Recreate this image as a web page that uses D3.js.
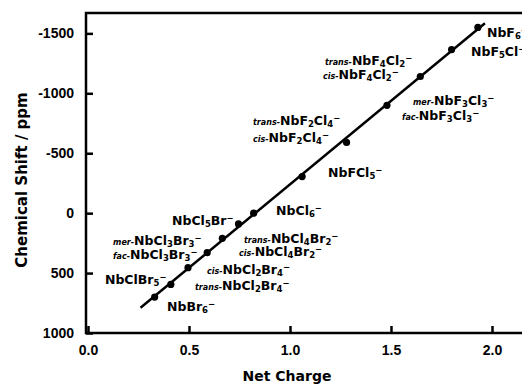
<!DOCTYPE html>
<html lang="en">
<head>
    <meta charset="UTF-8">
    <title>Chemical Shift vs Net Charge</title>
    <script src="https://d3js.org/d3.v7.min.js"></script>
    <style>
        body { margin: 0; background: #fff; }
        svg { display: block; }
        .tick text { font-family: "Liberation Sans", Arial, sans-serif; font-weight: bold; font-size: 14px; fill: #000; }
        .label { font-family: "DejaVu Sans", sans-serif; font-weight: bold; font-size: 12.5px; fill: #000; }
        .title { font-family: "DejaVu Sans", sans-serif; font-weight: bold; fill: #000; }
    </style>
</head>
<body>
<svg width="522" height="384"></svg>
<script>
    // measured points (net charge vs 93Nb shift)
    const netCharge = [0.33, 0.41, 0.495, 0.59, 0.665, 0.745, 0.82, 1.06, 1.28, 1.48, 1.645, 1.80, 1.93];
    const chemShift = [700, 595, 455, 330, 210, 90, 0, -305, -590, -900, -1140, -1365, -1550];

    // fitted line end points
    const fitX = [0.26, 1.965];
    const fitY = [790, -1585];

    const xTicks = [0, 0.5, 1.0, 1.5, 2.0];
    const yTicks = [-1500, -1000, -500, 0, 500, 1000];

    // species labels: [isomer prefix, formula], anchored at data coords
    const labelNames = [
        ["", "NbF6"], ["", "NbF5Cl"],
        ["trans", "NbF4Cl2"], ["cis", "NbF4Cl2"],
        ["mer", "NbF3Cl3"], ["fac", "NbF3Cl3"],
        ["trans", "NbF2Cl4"], ["cis", "NbF2Cl4"],
        ["", "NbFCl5"], ["", "NbCl6"], ["", "NbCl5Br"],
        ["mer", "NbCl3Br3"], ["fac", "NbCl3Br3"],
        ["trans", "NbCl4Br2"], ["cis", "NbCl4Br2"],
        ["cis", "NbCl2Br4"], ["trans", "NbCl2Br4"],
        ["", "NbClBr5"], ["", "NbBr6"]
    ];
    const labelX = [1.975, 1.896, 1.173, 1.163, 1.609, 1.554, 0.817, 0.817, 1.188, 0.931, 0.416, 0.124, 0.124, 0.772, 0.748, 0.589, 0.530, 0.084, 0.391];
    const labelY = [-1468, -1309, -1234, -1118, -900, -776, -734, -592, -300, 17, 100, 267, 384, 250, 359, 509, 642, 592, 817];

    const svg = d3.select("svg");

    const x = d3.scaleLinear().domain([0, 2]).range([88, 492]);
    const y = d3.scaleLinear().domain([1000, -1670]).range([333, 13]);

    const plotLeft = 86, plotTop = 13, plotBottom = 333;

    // axes with inward ticks
    const yAxis = d3.axisLeft(y)
        .tickValues(yTicks)
        .tickSizeInner(-7)
        .tickSizeOuter(0)
        .tickPadding(12)
        .tickFormat(d => d < 0 ? "-" + (-d) : String(d));

    const xAxis = d3.axisBottom(x)
        .tickValues(xTicks)
        .tickSizeInner(-7)
        .tickSizeOuter(0)
        .tickPadding(12)
        .tickFormat(d3.format(".1f"));

    const gy = svg.append("g").attr("transform", `translate(${plotLeft},0)`).call(yAxis);
    const gx = svg.append("g").attr("transform", `translate(0,${plotBottom})`).call(xAxis);
    gy.select(".domain").remove();
    gx.select(".domain").remove();
    svg.selectAll(".tick line").attr("stroke", "#000").attr("stroke-width", 2.5);

    // frame (right side runs off the page)
    svg.append("rect")
        .attr("x", plotLeft).attr("y", plotTop)
        .attr("width", 460).attr("height", plotBottom - plotTop)
        .attr("fill", "none").attr("stroke", "#000").attr("stroke-width", 2.5);

    // fit line
    const line = d3.line().x(d => x(d[0])).y(d => y(d[1]));
    svg.append("path")
        .datum(d3.zip(fitX, fitY))
        .attr("d", line)
        .attr("fill", "none").attr("stroke", "#000").attr("stroke-width", 2.5);

    // points
    svg.selectAll("circle.pt")
        .data(d3.zip(netCharge, chemShift))
        .join("circle")
        .attr("class", "pt")
        .attr("cx", d => x(d[0]))
        .attr("cy", d => y(d[1]))
        .attr("r", 3.6)
        .attr("fill", "#000");

    // labels with sub/superscripts
    labelNames.forEach((nm, i) => {
        const t = svg.append("text").attr("class", "label")
            .attr("x", x(labelX[i])).attr("y", y(labelY[i]));
        if (nm[0]) {
            t.append("tspan").attr("font-size", 8).attr("font-style", "italic").text(nm[0] + "-");
        }
        let low = false;
        nm[1].match(/\d+|\D+/g).forEach(part => {
            if (/\d/.test(part)) {
                t.append("tspan").attr("font-size", 8.5).attr("dy", low ? 0 : 2).text(part);
                low = true;
            } else {
                t.append("tspan").attr("dy", low ? -2 : 0).text(part);
                low = false;
            }
        });
        t.append("tspan").attr("font-size", 8.5).attr("dy", (low ? -2 : 0) - 4).text("\u2212");
    });

    // axis titles
    svg.append("text").attr("class", "title")
        .attr("font-size", 14)
        .attr("x", 287).attr("y", 381)
        .attr("text-anchor", "middle")
        .text("Net Charge");

    svg.append("text").attr("class", "title")
        .attr("font-size", 15)
        .attr("transform", "translate(27,180) rotate(-90)")
        .attr("text-anchor", "middle")
        .text("Chemical Shift / ppm");
</script>
</body>
</html>
